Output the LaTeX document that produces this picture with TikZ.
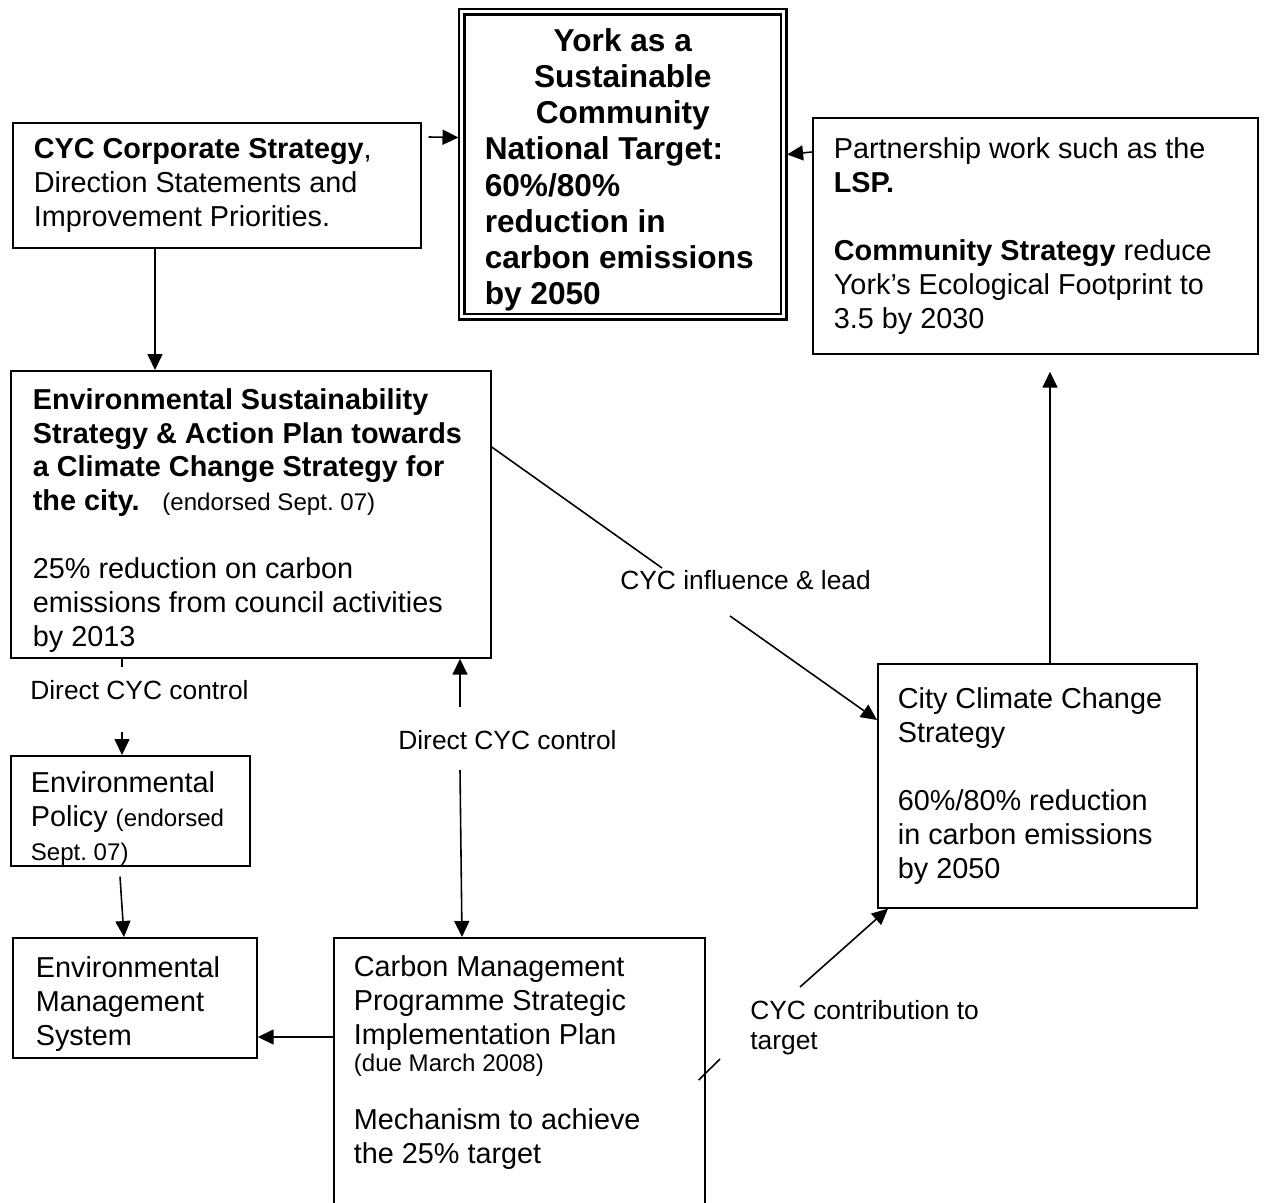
\documentclass[tikz,border=0pt]{standalone}
\usepackage{fontspec}
\setmainfont{Liberation Sans}
\usetikzlibrary{arrows.meta}

\newcommand\smallnote[1]{{\fontsize{13.7}{19.3}\selectfont #1}}
\newcommand\topstrut[1]{\rule{0pt}{#1}}

\tikzset{
    box/.style={draw, line width=1pt, anchor=north west, align=flush left, inner ysep=0pt,
        font=\fontsize{16.4}{19.3}\selectfont\frenchspacing},
    lbl/.style={anchor=west, align=left, inner sep=0pt, font=\fontsize{15}{17}\selectfont},
    link/.style={line width=0.9pt},
    arr/.style={line width=0.9pt, -{Triangle[length=0.32cm,width=0.3cm]}}
}

\begin{document}
\begin{tikzpicture}[x=0.02cm, y=-0.02cm]
    \useasboundingbox (0,0) rectangle (1265,1203);
    \clip (0,0) rectangle (1265,1203);

    \node[box, double, line width=1.5pt, double distance=1.6pt, inner xsep=0.46cm,
        minimum width=6.44cm, minimum height=6.1cm, text width=5.52cm,
        font=\fontsize{18}{20.6}\bfseries] (york) at (460.5,10.5)
        {{\centering \topstrut{0.68cm}York as a\\ Sustainable\\ Community\par}National Target:\\ 60\%/80\%\\ reduction in\\ carbon emissions\\ by 2050};

    \node[box, inner xsep=0.42cm, minimum width=8.16cm, minimum height=2.5cm, text width=7.32cm] (corp) at (12,122)
        {\textbf{CYC Corporate Strategy},\\ Direction Statements and\\ Improvement Priorities.};

    \node[box, inner xsep=0.42cm, minimum width=8.9cm, minimum height=4.72cm, text width=8.06cm] (lsp) at (812,117)
        {Partnership work such as the\\ \textbf{LSP.}\\[\baselineskip] \textbf{Community Strategy} reduce\\ York’s Ecological Footprint to\\ 3.5 by 2030};

    \node[box, inner xsep=0.44cm, minimum width=9.6cm, minimum height=5.74cm, text width=8.72cm] (ess) at (10,370)
        {\topstrut{0.66cm}\textbf{Environmental Sustainability}\\ \textbf{Strategy \& Action Plan towards}\\ \textbf{a Climate Change Strategy for}\\ \textbf{the city.}\hskip 13pt\smallnote{(endorsed Sept. 07)}\\[\baselineskip] 25\% reduction on carbon\\ emissions from council activities\\ by 2013};

    \node[box, inner xsep=0.4cm, minimum width=6.38cm, minimum height=4.88cm, text width=5.58cm] (city) at (877,663)
        {City Climate Change\\ Strategy\\[\baselineskip] 60\%/80\% reduction\\ in carbon emissions\\ by 2050};

    \node[box, inner xsep=0.4cm, minimum width=4.78cm, minimum height=2.16cm, text width=3.98cm] (pol) at (10,755)
        {\topstrut{0.74cm}Environmental\\ Policy \smallnote{(endorsed}\\ \smallnote{Sept. 07)}};

    \node[box, inner xsep=0.46cm, minimum width=4.88cm, minimum height=2.4cm, text width=3.96cm] (ems) at (12,937)
        {\topstrut{0.66cm}Environmental\\ Management\\ System};

    \node[box, inner xsep=0.4cm, inner ysep=0.36cm, minimum width=7.42cm, text width=6.62cm] (cmp) at (333,937)
        {Carbon Management\\ Programme Strategic\\ Implementation Plan\\[-4pt] \smallnote{(due March 2008)}\\[14pt] Mechanism to achieve\\ the 25\% target\\[2cm]\mbox{}};

    \node[lbl] (ctrlA) at (30,690) {Direct CYC control};
    \node[lbl] (ctrlB) at (398,740) {Direct CYC control};
    \node[lbl] (infl) at (620,580) {CYC influence \& lead};
    \node[lbl] (contr) at (750,1028) {CYC contribution to\\ target};

    \draw[arr] ([shift={(7,15)}]corp.north east) -- ([shift={(-2,127)}]york.north west);
    \draw[arr] ([shift={(0,35)}]lsp.north west) -- ([shift={(2,144)}]york.north east);
    \draw[arr] ([shift={(143,0)}]corp.south west) -- ([shift={(145,0)}]ess.north west);
    \draw[arr] ([shift={(173,0)}]city.north west) -- ([shift={(238,17)}]lsp.south west);

    \coordinate (inflA) at (662,568);
    \coordinate (inflB) at (730,616);
    \draw[link] ([shift={(0,77)}]ess.north east) -- (inflA);
    \draw[arr] (inflB) -- ([shift={(0,57)}]city.north west);

    \coordinate (ctrlAtop) at (122,667);
    \coordinate (ctrlAbot) at (122,732);
    \draw[link] ([shift={(112,0)}]ess.south west) -- (ctrlAtop);
    \draw[arr] (ctrlAbot) -- ([shift={(112,0)}]pol.north west);

    \draw[arr] ([shift={(110,10)}]pol.south west) -- ([shift={(112,0)}]ems.north west);

    \coordinate (ctrlBup) at (460,707);
    \coordinate (ctrlBdn) at (460,770);
    \draw[arr] (ctrlBup) -- ([shift={(450,0)}]ess.south west);
    \draw[arr] (ctrlBdn) -- ([shift={(129,0)}]cmp.north west);

    \draw[arr] ([shift={(0,100)}]cmp.north west) -- ([shift={(0,100)}]ems.north east);

    \coordinate (contrA) at (720,1059);
    \coordinate (contrB) at (800,987);
    \draw[link] ([shift={(-7,143)}]cmp.north east) -- (contrA);
    \draw[arr] (contrB) -- ([shift={(11,0)}]city.south west);
\end{tikzpicture}
\end{document}
